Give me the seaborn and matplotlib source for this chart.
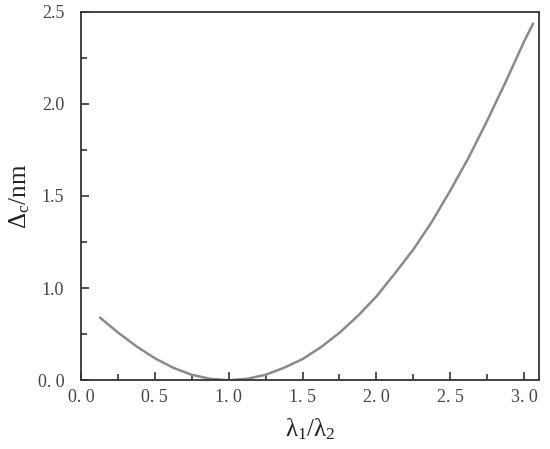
import numpy as np
import pandas as pd
import matplotlib
matplotlib.use("Agg")
import matplotlib.pyplot as plt
import seaborn as sns
from matplotlib.ticker import MultipleLocator

# values (y in axis position units, 0..2)
ratio = [0.13, 0.25, 0.375, 0.5, 0.625, 0.75, 0.875, 1.0, 1.125, 1.25, 1.375,
         1.5, 1.625, 1.75, 1.875, 2.0, 2.125, 2.25, 2.375, 2.5, 2.625, 2.75,
         2.875, 3.0, 3.06]
delta_c = [0.34, 0.26, 0.185, 0.12, 0.068, 0.03, 0.008, 0.0, 0.008, 0.03, 0.068,
           0.115, 0.18, 0.258, 0.35, 0.455, 0.58, 0.71, 0.86, 1.03, 1.21, 1.41,
           1.62, 1.84, 1.935]

xticks = [0.0, 0.5, 1.0, 1.5, 2.0, 2.5, 3.0]
xticklabels = ["0. 0", "0. 5", "1. 0", "1. 5", "2. 0", "2. 5", "3. 0"]
yticks = [0.0, 0.5, 1.0, 1.5, 2.0]
yticklabels = ["0. 0", "1.0", "1.5", "2.0", "2.5"]

df = pd.DataFrame({"ratio": ratio, "delta_c": delta_c})

sns.set_style("ticks")
plt.rcParams["font.family"] = ["Liberation Serif", "DejaVu Serif"]
plt.rcParams["mathtext.fontset"] = "custom"
plt.rcParams["mathtext.rm"] = "Liberation Serif"
plt.rcParams["mathtext.it"] = "Liberation Serif"

fig = plt.figure(figsize=(5.5, 4.49), dpi=100)
ax = fig.add_axes([0.147, 0.153, 0.833, 0.821])

sns.lineplot(data=df, x="ratio", y="delta_c", ax=ax, color="#8a8a8a", linewidth=1.8)

ax.set_xlim(0, 3.1)
ax.set_ylim(0, 2.0)
ax.set_xticks(xticks)
ax.set_xticklabels(xticklabels)
ax.set_yticks(yticks)
ax.set_yticklabels(yticklabels)
ax.xaxis.set_minor_locator(MultipleLocator(0.25))
ax.yaxis.set_minor_locator(MultipleLocator(0.25))

ax.tick_params(which="both", direction="in", colors="#333333", width=1.2,
               labelsize=13, labelcolor="#444444")
ax.tick_params(which="major", length=6)
ax.tick_params(which="minor", length=4)
ax.tick_params(axis="x", pad=6)
ax.tick_params(axis="y", pad=12)

for s in ax.spines.values():
    s.set_color("#333333")
    s.set_linewidth(1.3)

ax.set_xlabel("λ$_1$/λ$_2$", fontsize=18, color="#222222", labelpad=8)
ax.set_ylabel("Δ$_\\mathrm{c}$/nm", fontsize=18, color="#222222", labelpad=4)

fig.savefig("out.png", dpi=100)
